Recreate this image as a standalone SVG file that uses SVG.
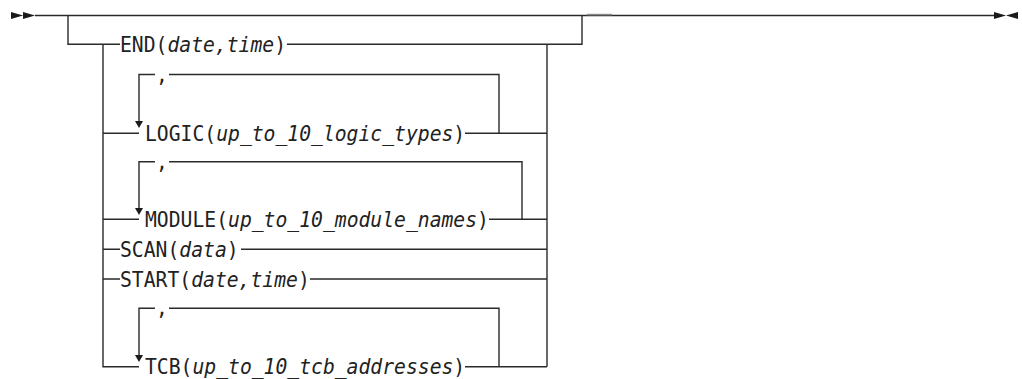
<svg xmlns="http://www.w3.org/2000/svg" width="1022" height="379" viewBox="0 0 1022 379">
<style>
.ln{fill:none;stroke:#2a2a2a;stroke-width:1.4}
.ar{fill:#1a1a1a}
.t{font-family:"DejaVu Sans Mono","Liberation Mono",monospace;font-size:21px;fill:#222}
.i{font-style:italic}
</style>
<rect width="1022" height="379" fill="#fff"/>
<g id="connectors">
<path class="ar" d="M11 12 L23 15.5 L11 19 Z M23 12 L35 15.5 L23 19 Z"/>
<path class="ar" d="M994 12 L1006 15.5 L994 19 Z M1018 12 L1006 15.5 L1018 19 Z"/>
<path class="ln" d="M35 15.5 H994"/>
<path d="M587 14.6 H612" stroke="#888" stroke-width="1.6"/>
<path class="ln" d="M68 15.5 V44.3 H120 M287 44.3 H582 V15.5"/>
<path class="ln" d="M103 44.3 V366.7 H139 M547 44.3 V366.7"/>
<path class="ln" d="M103 133.3 H139 M465 133.3 H547 M499 133.3 V74.5 H169 M155 74.5 H139 V122"/>
<path class="ar" d="M135 121 H143 L139 128 Z"/>
<path class="ln" d="M103 219.3 H139 M489 219.3 H547 M522 219.3 V161.7 H169 M155 161.7 H139 V209"/>
<path class="ar" d="M135 208 H143 L139 215 Z"/>
<path class="ln" d="M103 249.3 H120 M241 249.3 H547"/>
<path class="ln" d="M103 279 H120 M310 279 H547"/>
<path class="ln" d="M465 366.7 H547 M499 366.7 V308.3 H169 M155 308.3 H139 V356"/>
<path class="ar" d="M135 355 H143 L139 362 Z"/>
</g>
<g id="end"><text class="t" transform="translate(120,52) scale(0.9381,1)">END(<tspan class="i">date,time</tspan>)</text></g>
<g id="logic"><text class="t" transform="translate(156,81.5) scale(0.9381,1)">,</text><text class="t" transform="translate(145,141) scale(0.9381,1)">LOGIC(<tspan class="i">up_to_10_logic_types</tspan>)</text></g>
<g id="module"><text class="t" transform="translate(156,168.7) scale(0.9381,1)">,</text><text class="t" transform="translate(145,227) scale(0.9381,1)">MODULE(<tspan class="i">up_to_10_module_names</tspan>)</text></g>
<g id="scan"><text class="t" transform="translate(120,257) scale(0.9381,1)">SCAN(<tspan class="i">data</tspan>)</text></g>
<g id="start"><text class="t" transform="translate(120,286.7) scale(0.9381,1)">START(<tspan class="i">date,time</tspan>)</text></g>
<g id="tcb"><text class="t" transform="translate(156,315.3) scale(0.9381,1)">,</text><text class="t" transform="translate(145,374.4) scale(0.9381,1)">TCB(<tspan class="i">up_to_10_tcb_addresses</tspan>)</text></g>
</svg>
